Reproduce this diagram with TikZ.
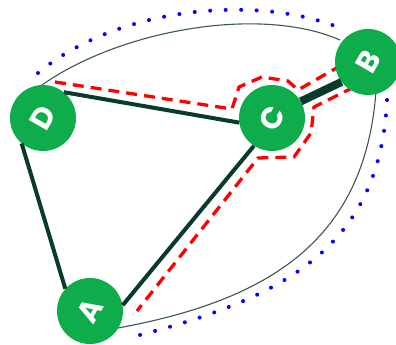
\documentclass[tikz,border=0pt]{standalone}
\usepackage{fontspec}
\setmainfont{Poppins}
\definecolor{nodegreen}{RGB}{14,172,74}
\definecolor{edgedark}{RGB}{8,58,46}
\definecolor{curvegray}{RGB}{60,88,78}
\tikzset{
  vertex/.style={circle,fill=nodegreen,minimum size=66pt,inner sep=0pt,
    text=white,font=\fontsize{30}{30}\selectfont\bfseries},
  edge/.style={draw=edgedark,line width=4pt},
  thinarc/.style={draw=curvegray,line width=1.1pt},
  pathline/.style={draw=red,line width=3.3pt,dash pattern=on 11pt off 7pt},
  boundline/.style={draw=blue,line width=4pt,line cap=round,dash pattern=on 0pt off 15.5pt}
}
\begin{document}
\begin{tikzpicture}[x=1pt,y=-1pt]
\useasboundingbox (0,0) rectangle (396,345);
\coordinate (PathStart) at (55,82);
\coordinate (PathEnd) at (137,311);
\draw[thinarc] (42,85) .. controls (120,30) and (260,5) .. (340,40);
\draw[thinarc] (376,91) .. controls (365,240) and (270,300) .. (118,328);
\draw[boundline] (38,73) .. controls (120,5) and (260,-5) .. (340,28);
\draw[boundline] (387,100) .. controls (380,250) and (280,300) .. (128,338);
\draw[pathline]
  (PathStart) --
  (232,109) --
  (239,87) --
  (262,77) --
  (288,81) --
  (298,90) --
  (340,66);
\draw[pathline]
  (354,87) --
  (314,107) --
  (311,133) --
  (294,157) --
  (258,158) --
  (PathEnd);
\node[vertex] (VertexD) at (43,118) {\rotatebox{60}{D}};
\node[vertex] (VertexC) at (272,118) {\rotatebox{60}{C}};
\node[vertex] (VertexB) at (368,62) {\rotatebox{60}{B}};
\node[vertex] (VertexA) at (90,311) {\rotatebox{60}{A}};
\draw[edge] (VertexD.51) -- (VertexC.188);
\draw[edge] (VertexD.230) -- (VertexA.138);
\draw[edge] (VertexA.10) -- (VertexC.237);
\draw[edge,line width=8pt] (VertexC.30) -- (VertexB.217);
\end{tikzpicture}
\end{document}
